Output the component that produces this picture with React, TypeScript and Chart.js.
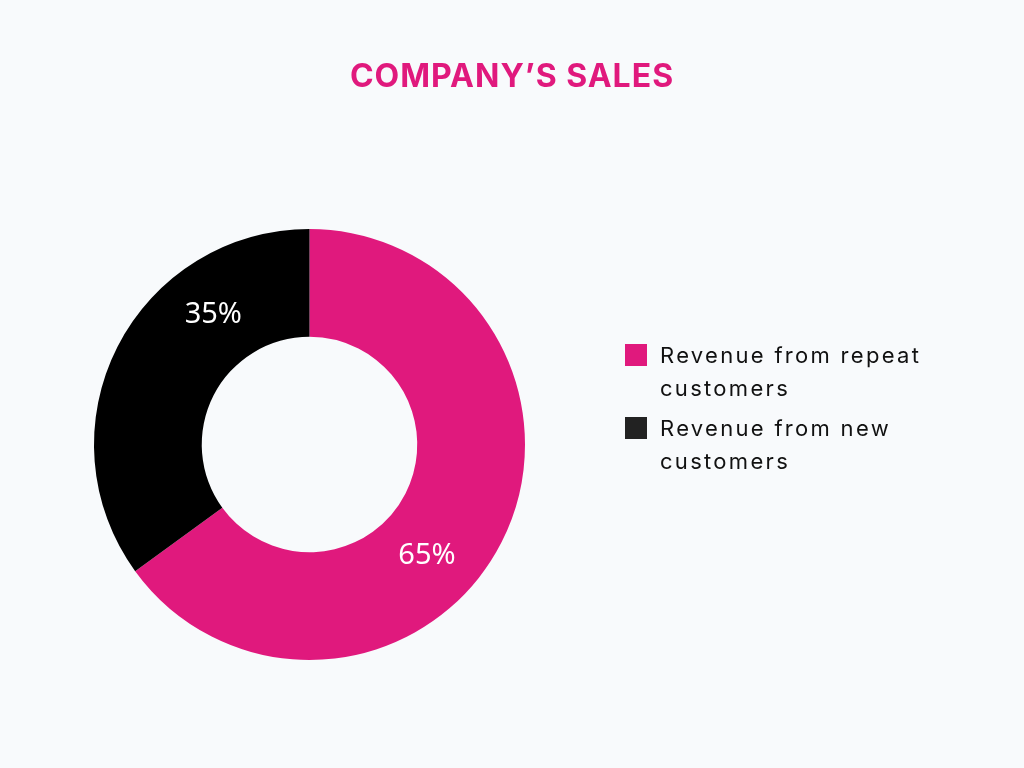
import React, { useEffect, useRef } from "react";
import { Chart, registerables } from "chart.js";

Chart.register(...registerables);

const title = "COMPANY’S SALES";
const categories = ["Revenue from repeat customers", "Revenue from new customers"];
const legendLines = [
  ["Revenue from repeat", "customers"],
  ["Revenue from new", "customers"],
];
const shares = [65, 35];
const sliceColors = ["#E0197D", "#000000"];
const swatchColors = ["#E0197D", "#222222"];
// where along each slice its percentage label sits (0 = start, 1 = end)
const labelAlong = [0.57, 0.71];

const PINK = "#E0197D";
const BG = "#F8FAFC";

const sliceLabels = {
  id: "sliceLabels",
  afterDatasetsDraw(chart: any) {
    const { ctx } = chart;
    const meta = chart.getDatasetMeta(0);
    ctx.save();
    ctx.fillStyle = "#FFFFFF";
    ctx.font = "400 29px 'Noto Sans', sans-serif";
    ctx.textAlign = "center";
    ctx.textBaseline = "middle";
    meta.data.forEach((arc: any, i: number) => {
      const p = arc.getProps(["x", "y", "startAngle", "endAngle", "innerRadius", "outerRadius"], true);
      const a = p.startAngle + (p.endAngle - p.startAngle) * labelAlong[i];
      const r = (p.innerRadius + p.outerRadius) / 2;
      ctx.fillText(`${shares[i]}%`, p.x + Math.cos(a) * r, p.y + Math.sin(a) * r);
    });
    ctx.restore();
  },
};

export default function App() {
  const canvasRef = useRef<HTMLCanvasElement | null>(null);

  useEffect(() => {
    document.body.style.margin = "0";
    document.body.style.background = BG;
    const chart = new Chart(canvasRef.current!, {
      type: "doughnut",
      data: {
        labels: categories,
        datasets: [
          {
            data: shares,
            backgroundColor: sliceColors,
            borderWidth: 0,
          },
        ],
      },
      options: {
        animation: false,
        responsive: false,
        maintainAspectRatio: false,
        cutout: "50%",
        layout: { padding: { left: 94, right: 499, top: 229, bottom: 108 } },
        plugins: {
          legend: { display: false },
          tooltip: { enabled: false },
          title: { display: false },
        },
      },
      plugins: [sliceLabels],
    });
    return () => chart.destroy();
  }, []);

  return (
    <div style={{ position: "relative", width: 1024, height: 768, background: BG, overflow: "hidden" }}>
      <canvas ref={canvasRef} width={1024} height={768} style={{ position: "absolute", left: 0, top: 0 }} />
      <div
        style={{
          position: "absolute",
          left: 0,
          width: 1024,
          top: 56,
          textAlign: "center",
          color: PINK,
          font: "700 32px Inter, sans-serif",
          letterSpacing: 1,
          lineHeight: "40px",
        }}
      >
        {title}
      </div>
      <div style={{ position: "absolute", left: 625, top: 340, fontFamily: "Inter, sans-serif" }}>
        {legendLines.map((lines, i) => (
          <div key={i} style={{ display: "flex", alignItems: "flex-start", marginBottom: 8 }}>
            <div style={{ width: 22, height: 22, background: swatchColors[i], marginTop: 4, marginRight: 13 }} />
            <div style={{ fontSize: 22, lineHeight: "33px", color: "#111111", marginTop: -1, letterSpacing: 2.3 }}>
              {lines.map((l, j) => (
                <div key={j}>{l}</div>
              ))}
            </div>
          </div>
        ))}
      </div>
    </div>
  );
}
